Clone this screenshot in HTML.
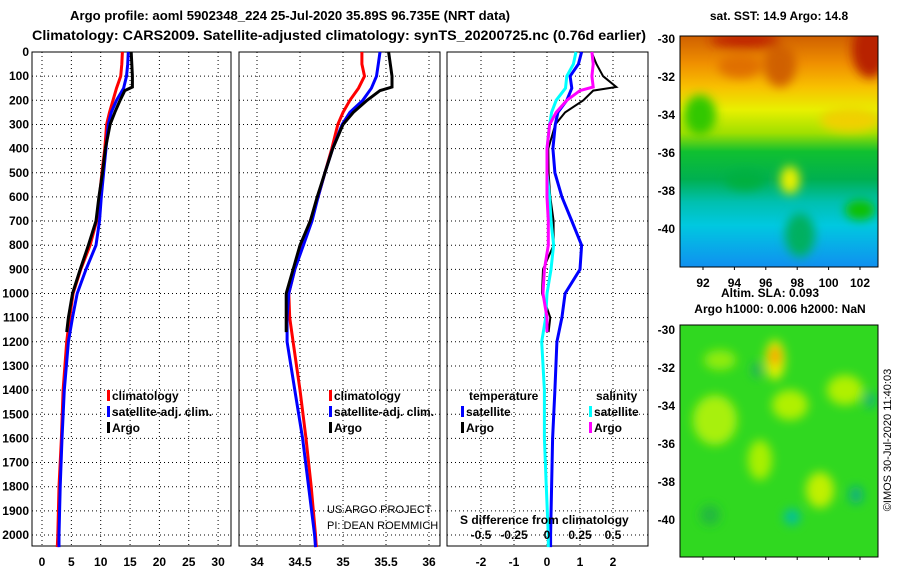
<!DOCTYPE html>
<html><head><meta charset="utf-8">
<style>
body{margin:0;background:#fff;width:900px;height:580px;overflow:hidden}
svg{display:block}
text{font-family:"Liberation Sans",Arial,sans-serif}
</style></head>
<body>
<svg id="c" width="900" height="580" viewBox="0 0 900 580" xmlns="http://www.w3.org/2000/svg">
<defs>
<linearGradient id="sstg" x1="0" y1="0" x2="0" y2="1">
<stop offset="0" stop-color="#d06000"/><stop offset="0.12" stop-color="#f09000"/>
<stop offset="0.22" stop-color="#f8c000"/><stop offset="0.32" stop-color="#e8f000"/>
<stop offset="0.42" stop-color="#a0e000"/><stop offset="0.5" stop-color="#10c030"/>
<stop offset="0.62" stop-color="#00b050"/><stop offset="0.72" stop-color="#00c0b0"/>
<stop offset="0.82" stop-color="#00c8e0"/><stop offset="1" stop-color="#1090f0"/>
</linearGradient>
<filter id="bl" x="-50%" y="-50%" width="200%" height="200%"><feGaussianBlur stdDeviation="5"/></filter>
<clipPath id="m1"><rect x="680" y="36" width="198" height="231"/></clipPath>
<clipPath id="m2"><rect x="680" y="325" width="198" height="232"/></clipPath>
</defs>
<g id="titles">
<text x="70" y="20" font-size="13" font-weight="bold" textLength="440" lengthAdjust="spacingAndGlyphs">Argo profile: aoml 5902348_224 25-Jul-2020 35.89S 96.735E (NRT data)</text>
<text x="32" y="40" font-size="13.5" font-weight="bold" textLength="614" lengthAdjust="spacingAndGlyphs">Climatology: CARS2009. Satellite-adjusted climatology: synTS_20200725.nc (0.76d earlier)</text>
</g>
<g id="plots"></g>
<g>
<text x="779" y="20" font-size="12" font-weight="bold" text-anchor="middle">sat. SST: 14.9 Argo: 14.8</text>
<g clip-path="url(#m1)">
<rect x="680" y="36" width="198" height="231" fill="url(#sstg)"/>
<g filter="url(#bl)">
<ellipse cx="745" cy="40" rx="35" ry="8" fill="#c02800"/>
<ellipse cx="780" cy="65" rx="16" ry="22" fill="#d06000"/>
<ellipse cx="870" cy="50" rx="18" ry="28" fill="#b82000"/>
<ellipse cx="740" cy="66" rx="22" ry="12" fill="#e07000"/>
<ellipse cx="700" cy="115" rx="16" ry="20" fill="#30c800"/>
<ellipse cx="790" cy="180" rx="10" ry="14" fill="#e8f000"/>
<ellipse cx="850" cy="120" rx="30" ry="12" fill="#f0d000"/>
<ellipse cx="800" cy="235" rx="15" ry="22" fill="#00b060"/>
<ellipse cx="860" cy="210" rx="15" ry="10" fill="#10c000"/>
<ellipse cx="745" cy="180" rx="20" ry="10" fill="#00b040"/>
</g></g>
<rect x="680" y="36" width="198" height="231" fill="none" stroke="#000"/>
</g>
<g>
<text x="770" y="297" font-size="12" font-weight="bold" text-anchor="middle">Altim. SLA: 0.093</text>
<text x="780" y="313" font-size="12" font-weight="bold" text-anchor="middle">Argo h1000: 0.006 h2000: NaN</text>
<g clip-path="url(#m2)">
<rect x="680" y="325" width="198" height="232" fill="#30d820"/>
<g filter="url(#bl)">
<ellipse cx="720" cy="360" rx="16" ry="10" fill="#90ec10"/>
<ellipse cx="715" cy="420" rx="22" ry="25" fill="#a8f008"/>
<ellipse cx="790" cy="405" rx="18" ry="15" fill="#b0f000"/>
<ellipse cx="845" cy="390" rx="18" ry="15" fill="#b0f000"/>
<ellipse cx="820" cy="490" rx="14" ry="18" fill="#c0f000"/>
<ellipse cx="760" cy="460" rx="12" ry="20" fill="#a8f000"/>
<ellipse cx="775" cy="360" rx="10" ry="20" fill="#e0f000"/>
<ellipse cx="775" cy="356" rx="6" ry="10" fill="#f8a000"/>
<ellipse cx="792" cy="517" rx="8" ry="8" fill="#00c0a0"/>
<ellipse cx="856" cy="495" rx="7" ry="9" fill="#10b080"/>
<ellipse cx="710" cy="515" rx="10" ry="10" fill="#20b840"/>
<ellipse cx="870" cy="400" rx="5" ry="8" fill="#10b080"/>
<ellipse cx="757" cy="370" rx="5" ry="8" fill="#20b060"/>
</g></g>
<rect x="680" y="325" width="198" height="232" fill="none" stroke="#000"/>
</g>
<g id="maplabels" font-size="12" font-weight="bold"></g>
<text x="0" y="0" font-size="11" text-anchor="middle" transform="translate(891,440) rotate(-90)">©IMOS 30-Jul-2020 11:40:03</text>
</svg>
<script>
const depthT = [0,50,100,150,200,250,300,400,500,600,700,800,900,1000,1100,1200,1400,1600,1800,2000,2050];
const tempClim = [13.7,13.6,13.4,12.7,12.1,11.5,11.0,10.7,10.2,9.8,9.3,8.2,6.6,5.3,4.7,4.2,3.6,3.3,2.9,2.7,2.6];
const tempSat  = [14.7,14.6,14.4,13.9,12.7,11.8,11.3,10.9,10.5,10.1,9.8,9.2,7.5,6.0,5.2,4.5,3.8,3.4,3.1,2.9,2.9];
const depthArgo = [0,50,100,145,160,200,250,300,400,500,600,700,800,900,1000,1100,1160];
const tempArgo = [15.2,15.3,15.4,15.4,14.1,13.3,12.4,11.6,10.8,10.3,9.7,9.2,7.9,6.5,5.2,4.5,4.2];
const salClim = [35.22,35.22,35.25,35.18,35.08,35.0,34.94,34.87,34.79,34.71,34.62,34.52,34.44,34.37,34.38,34.42,34.5,34.57,34.63,34.68,34.69];
const salSat  = [35.43,35.41,35.39,35.33,35.23,35.08,34.99,34.88,34.79,34.71,34.64,34.54,34.44,34.37,34.35,34.35,34.44,34.53,34.6,34.67,34.68];
const salArgo = [35.53,35.55,35.57,35.57,35.43,35.28,35.12,35.0,34.88,34.79,34.7,34.62,34.5,34.42,34.34,34.34,34.34];
const dTSat  = [1.05,0.95,0.7,0.75,0.6,0.33,0.25,0.18,0.24,0.45,0.75,1.05,1.0,0.55,0.45,0.3,0.24,0.17,0.14,0.11,0.11];
const dTArgo = [1.35,1.5,1.7,2.1,1.4,1.1,0.55,0.25,0.04,0.05,0.1,0.2,0.2,-0.12,-0.15,0.1,0.05];
const dSSat  = [0.22,0.2,0.15,0.14,0.07,0.035,0.02,0,0,0.02,0.03,0.05,0.03,0,-0.01,-0.04,-0.02,-0.02,-0.005,0.01,0.01];
const dSArgo = [0.34,0.35,0.34,0.35,0.25,0.15,0.07,0.02,0,0,0,0.01,0.01,-0.02,-0.03,0,0];
const depthTicks = [0,100,200,300,400,500,600,700,800,900,1000,1100,1200,1300,1400,1500,1600,1700,1800,1900,2000];
const tTicks = [0,5,10,15,20,25,30];
const sTicks = [34,34.5,35,35.5,36];
const dTTicks = [-2,-1,0,1,2];
const dSTicks = [-0.5,-0.25,0,0.25,0.5];

const NS='http://www.w3.org/2000/svg';
const P=document.getElementById('plots');
function mk(tag,at,parent){const e=document.createElementNS(NS,tag);for(const k in at)e.setAttribute(k,at[k]);(parent||P).appendChild(e);return e;}
const yTop=52, yBot=546;
const yD = d => yTop + d*0.2415;
const xT = t => 42 + t*5.87;
const xS = s => 257 + (s-34)*86;
const xdT = v => 547 + v*33;
const xdS = v => 547 + v*132;
const panels=[{x0:32,x1:231,ticks:tTicks,fx:xT,name:'temperature-panel'},{x0:239,x1:440,ticks:sTicks,fx:xS,name:'salinity-panel'},{x0:447,x1:648,ticks:dTTicks,fx:xdT,name:'difference-panel'}];
panels.forEach(p=>{
  const g=mk('g',{});
  
  
  depthTicks.forEach(d=>{ if(d>0) mk('line',{x1:p.x0,x2:p.x1,y1:yD(d),y2:yD(d),stroke:'#000','stroke-dasharray':'1,3'},g);});
  p.ticks.forEach(t=>{ mk('line',{x1:p.fx(t),x2:p.fx(t),y1:yTop,y2:yBot,stroke:'#000','stroke-dasharray':'1,3'},g);
    const tx=mk('text',{x:p.fx(t),y:566,'font-size':12,'font-weight':'bold','text-anchor':'middle'},g); tx.textContent=t;});
  mk('rect',{x:p.x0,y:yTop,width:p.x1-p.x0,height:yBot-yTop,fill:'none',stroke:'#000'},g);
});
depthTicks.forEach(d=>{const t=mk('text',{x:29,y:yD(d)+4,'font-size':12,'font-weight':'bold','text-anchor':'end'});
  
  
  t.textContent=d;});
function line(depths,vals,fx,color,w,name){
  const pts=depths.map((d,i)=>fx(vals[i]).toFixed(1)+','+yD(d).toFixed(1)).join(' ');
  const e=mk('polyline',{points:pts,fill:'none',stroke:color,'stroke-width':w,'stroke-linejoin':'miter'});
  
  
}
line(depthT,tempClim,xT,'#f00',3,'temp-climatology-line');
line(depthT,tempSat,xT,'#00f',3,'temp-satellite-line');
line(depthArgo,tempArgo,xT,'#000',3,'temp-argo-line');
line(depthT,salClim,xS,'#f00',3,'sal-climatology-line');
line(depthT,salSat,xS,'#00f',3,'sal-satellite-line');
line(depthArgo,salArgo,xS,'#000',3,'sal-argo-line');
line(depthArgo,dTArgo,xdT,'#000',2,'tdiff-argo-line');
line(depthT,dTSat,xdT,'#00f',3,'tdiff-satellite-line');
line(depthT,dSSat,xdS,'#0ff',3,'sdiff-satellite-line');
line(depthArgo,dSArgo,xdS,'#f0f',3,'sdiff-argo-line');
function legend(x,y,color,label){
  const g=mk('g',{});
  
  
  mk('rect',{x:x,y:y-10,width:3,height:11,fill:color},g);
  const t=mk('text',{x:x+5,y:y,'font-size':12,'font-weight':'bold'},g); t.textContent=label;
}
legend(107,400,'#f00','climatology');legend(107,416,'#00f','satellite-adj. clim.');legend(107,432,'#000','Argo');
legend(329,400,'#f00','climatology');legend(329,416,'#00f','satellite-adj. clim.');legend(329,432,'#000','Argo');
legend(461,416,'#00f','satellite');legend(461,432,'#000','Argo');
legend(589,416,'#0ff','satellite');legend(589,432,'#f0f','Argo');
[[469,400,'temperature'],[596,400,'salinity']].forEach(a=>{const t=mk('text',{x:a[0],y:a[1],'font-size':12,'font-weight':'bold'});t.textContent=a[2];});
let t=mk('text',{x:327,y:513,'font-size':11});t.textContent='US ARGO PROJECT';
t=mk('text',{x:327,y:529,'font-size':11});t.textContent='PI: DEAN ROEMMICH';
t=mk('text',{x:460,y:524,'font-size':12,'font-weight':'bold'});t.textContent='S difference from climatology';
dSTicks.forEach(v=>{const e=mk('text',{x:xdS(v),y:539,'font-size':12,'font-weight':'bold','text-anchor':'middle'});e.textContent=v;});
const ML=document.getElementById('maplabels');
const latTicks=[-30,-32,-34,-36,-38,-40];
const lonTicks=[92,94,96,98,100,102];
latTicks.forEach(l=>{
  [[39,19],[330,19]].forEach(([y0,s])=>{const e=mk('text',{x:675,y:y0+(-30-l)*s+4,'text-anchor':'end'},ML);e.textContent=l;});
});
lonTicks.forEach(l=>{const x=703+(l-92)*15.7;const e=mk('text',{x:x,y:287,'text-anchor':'middle'},ML);e.textContent=l;
  mk('line',{x1:x,x2:x,y1:267,y2:270,stroke:'#000'},ML);mk('line',{x1:x,x2:x,y1:557,y2:560,stroke:'#000'},ML);});
</script>
</body></html>
